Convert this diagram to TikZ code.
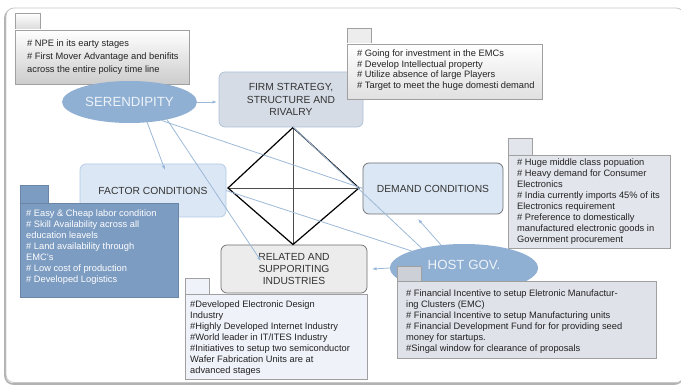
\documentclass[tikz,border=0pt]{standalone}
\usepackage{fontspec}
\setmainfont{Liberation Sans}
\usetikzlibrary{shapes.geometric,arrows.meta,calc,shadows}
\definecolor{steel}{HTML}{8FAFD3}
\definecolor{steeldk}{HTML}{7D9CC2}
\definecolor{linkc}{HTML}{9DB9D8}
\definecolor{labelc}{HTML}{333333}
\definecolor{notec}{HTML}{222222}
\definecolor{nbord}{HTML}{A0A0A0}
\definecolor{firmfill}{HTML}{D5DCE6}
\definecolor{firmbord}{HTML}{ADC0D8}
\definecolor{facfill}{HTML}{DBE7F4}
\definecolor{facbord}{HTML}{B3CCE6}
\definecolor{darkbord}{HTML}{6F6F6F}
\definecolor{relfill}{HTML}{ECECEC}
\definecolor{demnote}{HTML}{E3E5EC}
\definecolor{hostnote}{HTML}{E0E2EA}
\definecolor{relnote}{HTML}{F0F2FA}
\definecolor{ellitext}{HTML}{EEF3F9}
\begin{document}
\begin{tikzpicture}[x=1pt,y=-1pt,
  lbl/.style={font=\fontsize{10.3}{12.3}\selectfont, text=labelc, align=center},
  mainbox/.style={draw, rounded corners=6pt, line width=0.7pt, outer sep=0pt, lbl},
  ell/.style={ellipse, fill=steel, draw=none, outer sep=0pt, text=ellitext, font=\fontsize{13.3}{15}\selectfont},
  ntxt/.style={font=\fontsize{9.3}{11}\selectfont, text=notec, align=left, anchor=north west, inner sep=0pt},
  nbox/.style={draw=nbord, line width=0.6pt, anchor=north west, inner sep=0pt, outer sep=0pt,
     drop shadow={shadow xshift=1pt, shadow yshift=-1pt, opacity=0.25}},
  tabbox/.style={draw=nbord, line width=0.6pt, anchor=north west, inner sep=0pt, outer sep=0pt},
  link/.style={draw=linkc, line width=0.8pt},
  arr/.style={link, -{Latex[length=4.5pt,width=3.5pt]}},
  dia/.style={draw=black, line width=1.2pt, line join=miter},
  cross/.style={draw=black!70, line width=0.8pt}
]
\useasboundingbox (0,0) rectangle (681,385);
% outer frame
\draw[draw=black!30, line width=1.6pt, rounded corners=8pt] (5,9.5) rectangle (683,384);
\draw[draw=black!22, fill=white, line width=0.8pt, rounded corners=8pt] (6,8) rectangle (684,382.5);

% NPE note (behind serendipity)
\node[tabbox, top color=white, bottom color=black!15, minimum width=25pt, minimum height=17pt] (npetab) at (15,13) {};
\node[nbox, top color=white, bottom color=black!20, minimum width=174pt, minimum height=54pt] (npe) at (15,30) {};
\node[ntxt, font=\fontsize{9.3}{12.8}\selectfont] (npet) at (27,39.8)
  {\# NPE in its earty stages\\ \# First Mover Advantage and benifits\\ across the entire policy time line};

% main boxes
\node[mainbox, fill=firmfill, draw=firmbord, minimum width=144pt, minimum height=55pt] (firm) at (291,99.5)
  {FIRM STRATEGY,\\ STRUCTURE AND\\ RIVALRY};
\node[mainbox, fill=facfill, draw=facbord, minimum width=146pt, minimum height=53pt] (fac) at (153,190.5)
  {FACTOR CONDITIONS};
\node[mainbox, fill=facfill, draw=darkbord, minimum width=140pt, minimum height=51pt] (dem) at (433,188.5)
  {DEMAND CONDITIONS};
\node[mainbox, fill=relfill, draw=darkbord, minimum width=146pt, minimum height=48pt] (rel) at (294,269)
  {RELATED AND\\ SUPPORITING\\ INDUSTRIES};

% diamond
\coordinate (dt) at (293,127.5);
\coordinate (dr) at (359,188);
\coordinate (db) at (293,244.5);
\coordinate (dl) at (228,188);
\draw[cross] (dt) -- (db);
\draw[cross] (dl) -- (dr);
\draw[dia] (dt) -- (dr) -- (db) -- (dl) -- cycle;

% ellipses
\node[ell, minimum width=133pt, minimum height=42pt] (ser) at (129.5,102) {SERENDIPITY};
\node[ell, minimum width=148pt, minimum height=48pt, text depth=6pt] (host) at (464,268) {HOST GOV.};

% connectors
\coordinate (relin) at (261,261);
\draw[arr, shorten >=2pt] (ser.east) -- (ser.east -| firm.west);
\draw[arr] (ser.-49) -- ($(fac.north)+(12,6)$);
\draw[arr] (ser.-25) -- (relin);
\draw[link] (ser.-30) -- (dem.west);
\draw[link] (firm.south -| dt) -- (host.155);
\draw[link] (fac.east) -- (host.162);
\draw[arr] (host.135) -- ([xshift=-15pt,yshift=-5pt]dem.south);
\draw[arr] (host.west) -- ([xshift=5pt]rel.east);

% notes
\node[tabbox, fill=black!7, minimum width=24pt, minimum height=16pt] (firmtab) at (347,28) {};
\node[nbox, top color=white, bottom color=black!12, minimum width=195pt, minimum height=55pt] (firmn) at (347,44) {};
\node[ntxt, font=\fontsize{9.3}{10.6}\selectfont] (firmt) at (357,49.8)
  {\# Going for investment in the EMCs\\ \# Develop Intellectual property\\ \# Utilize absence of large Players\\ \# Target to meet the huge domesti demand};

\node[tabbox, fill=steeldk, draw=steeldk!85!black, minimum width=28pt, minimum height=18pt] (factab) at (20,185) {};
\node[nbox, fill=steeldk, draw=steeldk!85!black, minimum width=158pt, minimum height=94pt] (facn) at (20,203) {};
\node[ntxt, text=white] (fact) at (26,209.5)
  {\# Easy \& Cheap labor condition\\ \# Skill Availability across all\\ education leavels\\ \# Land availability through\\ EMC's\\ \# Low cost of production\\ \# Developed Logistics};

\node[tabbox, fill=demnote, minimum width=24pt, minimum height=17pt] (demtab) at (508,138) {};
\node[nbox, fill=demnote, minimum width=162pt, minimum height=93pt] (demn) at (508,155) {};
\node[ntxt] (demt) at (517,158.5)
  {\# Huge middle class popuation\\ \# Heavy demand for Consumer\\ Electronics\\ \# India currently imports 45\% of its\\ Electronics requirement\\ \# Preference to domestically\\ manufactured electronic goods in\\ Government procurement};

\node[tabbox, fill=relnote, minimum width=24pt, minimum height=16pt] (reltab) at (185,278) {};
\node[nbox, fill=relnote, minimum width=182pt, minimum height=85pt] (reln) at (185,294) {};
\node[ntxt] (relt) at (190,300.5)
  {\#Developed Electronic Design\\ Industry\\ \#Highly Developed Internet Industry\\ \#World leader in IT/ITES Industry\\ \#Initiatives to setup two semiconductor\\ Wafer Fabrication Units are at\\ advanced stages};

\node[tabbox, fill=hostnote!92!black, minimum width=24pt, minimum height=15pt] (hosttab) at (397,266) {};
\node[nbox, fill=hostnote, minimum width=259pt, minimum height=77pt] (hostn) at (397,281) {};
\node[ntxt] (hostt) at (406,289.5)
  {\# Financial Incentive to setup Eletronic Manufactur-\\ ing Clusters (EMC)\\ \# Financial Incentive to setup Manufacturing units\\ \# Financial Development Fund for for providing seed\\ money for startups.\\ \#Singal window for clearance of proposals};
\end{tikzpicture}
\end{document}
